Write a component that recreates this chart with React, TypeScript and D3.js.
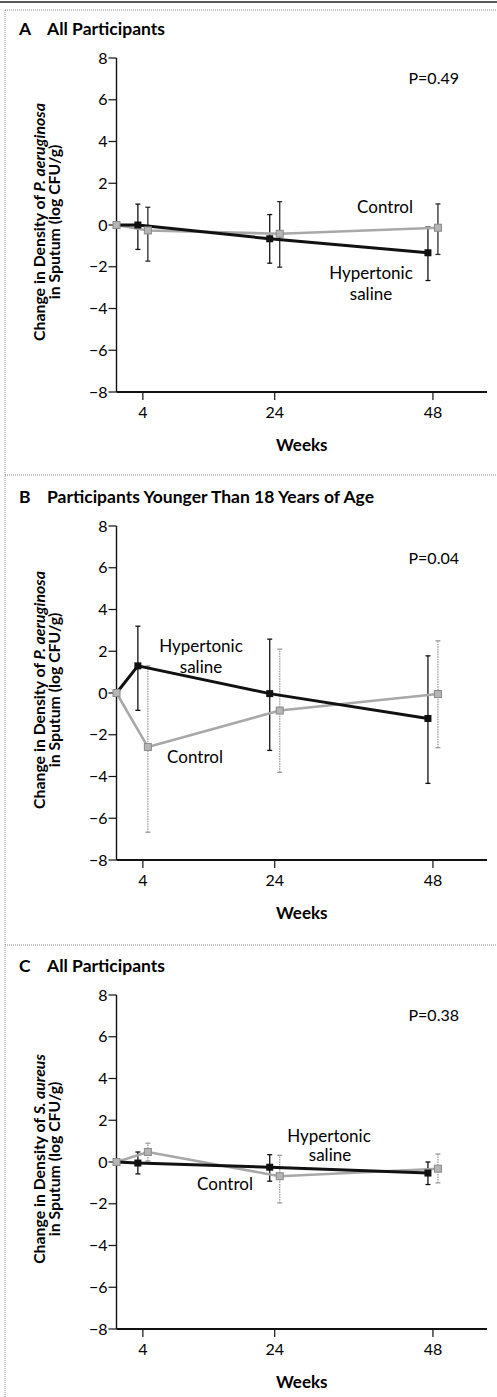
import * as d3 from "d3";

// weeks of follow-up; week 0 is the baseline
const weeks = [0, 4, 24, 48];
const xTicks = [4, 24, 48];
const yTicks = [-8, -6, -4, -2, 0, 2, 4, 6, 8];

// A: P. aeruginosa, all participants
const salineA = [0, 0, -0.66, -1.33];
const salineALo = [0, -1.17, -1.83, -2.66];
const salineAHi = [0, 1.0, 0.5, -0.1];
const controlA = [0, -0.26, -0.42, -0.13];
const controlALo = [0, -1.73, -2.02, -1.41];
const controlAHi = [0, 0.85, 1.12, 1.01];

// B: P. aeruginosa, participants younger than 18
const salineB = [0, 1.3, -0.03, -1.22];
const salineBLo = [0, -0.83, -2.75, -4.33];
const salineBHi = [0, 3.2, 2.58, 1.78];
const controlB = [0, -2.59, -0.84, -0.05];
const controlBLo = [0, -6.67, -3.8, -2.62];
const controlBHi = [0, 1.3, 2.1, 2.5];

// C: S. aureus, all participants
const salineC = [0, -0.05, -0.25, -0.53];
const salineCLo = [0, -0.57, -0.92, -1.08];
const salineCHi = [0, 0.48, 0.35, 0.0];
const controlC = [0, 0.48, -0.68, -0.32];
const controlCLo = [0, 0.05, -1.96, -1.0];
const controlCHi = [0, 0.9, 0.32, 0.38];

const FONT = "Lato, 'Open Sans', sans-serif";
const W = 497;
const H = 1397;
const PLOT_H = 334;
const x = d3.scaleLinear().domain([0, 56.2]).range([116.5, 487]);

const panels = [
  {
    letter: "A", title: "All Participants", top: 58, p: "P=0.49", pDy: 26, organism: "P. aeruginosa",
    saline: salineA, salineLo: salineALo, salineHi: salineAHi,
    control: controlA, controlLo: controlALo, controlHi: controlAHi, darkControlBars: true,
    labels: [
      { text: "Control", x: 385, dy: 155 },
      { text: "Hypertonic", x: 371, dy: 221 },
      { text: "saline", x: 371, dy: 242 },
    ],
  },
  {
    letter: "B", title: "Participants Younger Than 18 Years of Age", top: 526, p: "P=0.04", pDy: 38, organism: "P. aeruginosa",
    saline: salineB, salineLo: salineBLo, salineHi: salineBHi,
    control: controlB, controlLo: controlBLo, controlHi: controlBHi, darkControlBars: false,
    labels: [
      { text: "Hypertonic", x: 201, dy: 126 },
      { text: "saline", x: 201, dy: 147 },
      { text: "Control", x: 195, dy: 237 },
    ],
  },
  {
    letter: "C", title: "All Participants", top: 995, p: "P=0.38", pDy: 26, organism: "S. aureus",
    saline: salineC, salineLo: salineCLo, salineHi: salineCHi,
    control: controlC, controlLo: controlCLo, controlHi: controlCHi, darkControlBars: false,
    labels: [
      { text: "Hypertonic", x: 329, dy: 147 },
      { text: "saline", x: 330, dy: 166 },
      { text: "Control", x: 225, dy: 195 },
    ],
  },
];

function Panel({ cfg }: { cfg: any }) {
  const y = d3.scaleLinear().domain([-8, 8]).range([cfg.top + PLOT_H, cfg.top]);
  const bottom = cfg.top + PLOT_H;
  // small horizontal jitter so the two groups do not overlap
  const px = (w: number, shift: number) => x(w) + (w === 0 ? 0 : shift);

  const line = (vals: number[], shift: number) =>
    d3.line<number>()
      .x((_, i) => px(weeks[i], shift))
      .y((v) => y(v))(vals);

  const bars = (lo: number[], hi: number[], shift: number, color: string, dash?: string) =>
    weeks.map((w, i) =>
      w === 0 ? null : (
        <g key={i} stroke={color} strokeWidth={1.3}>
          <line x1={px(w, shift)} x2={px(w, shift)} y1={y(lo[i])} y2={y(hi[i])} strokeDasharray={dash} />
          <line x1={px(w, shift) - 2.5} x2={px(w, shift) + 2.5} y1={y(lo[i])} y2={y(lo[i])} />
          <line x1={px(w, shift) - 2.5} x2={px(w, shift) + 2.5} y1={y(hi[i])} y2={y(hi[i])} />
        </g>
      )
    );

  const ctrlBarColor = cfg.darkControlBars ? "#2a2a2a" : "#9a9a9a";
  const ctrlDash = cfg.darkControlBars ? undefined : "1.5 1";
  const yLabelCenter = cfg.top + PLOT_H / 2 - 3;

  return (
    <g>
      <text x={19} y={cfg.top - 23} fontFamily={FONT} fontWeight={700} fontSize={17.5}>
        {cfg.letter}
      </text>
      <text x={47} y={cfg.top - 23} fontFamily={FONT} fontWeight={700} fontSize={17.5}>
        {cfg.title}
      </text>

      {/* y axis label */}
      <g transform={`translate(45,${yLabelCenter}) rotate(-90)`} fontFamily={FONT} fontWeight={700} fontSize={15.8} textAnchor="middle">
        <text x={0} y={0}>
          Change in Density of <tspan fontStyle="italic">{cfg.organism}</tspan>
        </text>
        <text x={0} y={15}>in Sputum (log CFU/g)</text>
      </g>

      {/* axes */}
      <line x1={x(0)} x2={x(0)} y1={cfg.top} y2={bottom} stroke="#111" strokeWidth={1.4} />
      <line x1={x(0)} x2={x.range()[1]} y1={bottom} y2={bottom} stroke="#111" strokeWidth={2} />
      {yTicks.map((t) => (
        <g key={t}>
          <line x1={x(0) - 8} x2={x(0)} y1={y(t)} y2={y(t)} stroke="#111" strokeWidth={1.2} />
          <text x={x(0) - 9} y={y(t) + 5.5} textAnchor="end" fontFamily={FONT} fontSize={16}>
            {d3.format("d")(t)}
          </text>
        </g>
      ))}
      {xTicks.map((t) => (
        <g key={t}>
          <line x1={x(t)} x2={x(t)} y1={bottom} y2={bottom + 8} stroke="#111" strokeWidth={1.2} />
          <text x={x(t)} y={bottom + 26} textAnchor="middle" fontFamily={FONT} fontSize={16}>
            {t}
          </text>
        </g>
      ))}
      <text x={(x.range()[0] + x.range()[1]) / 2} y={bottom + 59} textAnchor="middle" fontFamily={FONT} fontWeight={700} fontSize={17}>
        Weeks
      </text>
      <text x={459} y={cfg.top + cfg.pDy} textAnchor="end" fontFamily={FONT} fontSize={16}>
        {cfg.p}
      </text>

      {/* error bars */}
      {bars(cfg.controlLo, cfg.controlHi, 5, ctrlBarColor, ctrlDash)}
      {bars(cfg.salineLo, cfg.salineHi, -5, "#111")}

      {/* lines */}
      <path d={line(cfg.control, 5) ?? ""} fill="none" stroke="#a8a8a8" strokeWidth={2.6} />
      <path d={line(cfg.saline, -5) ?? ""} fill="none" stroke="#111" strokeWidth={3} />

      {/* markers */}
      {cfg.control.map((v: number, i: number) => (
        <rect key={i} x={px(weeks[i], 5) - 3.5} y={y(v) - 3.5} width={7} height={7}
          fill="#b5b5b5" stroke="#8a8a8a" strokeWidth={1} />
      ))}
      {cfg.saline.map((v: number, i: number) =>
        weeks[i] === 0 ? null : (
          <rect key={i} x={px(weeks[i], -5) - 3.5} y={y(v) - 3.5} width={7} height={7} fill="#111" />
        )
      )}

      {cfg.labels.map((l: any, i: number) => (
        <text key={i} x={l.x} y={cfg.top + l.dy} textAnchor="middle" fontFamily={FONT} fontSize={17}>
          {l.text}
        </text>
      ))}
    </g>
  );
}

export default function App() {
  return (
    <svg width={W} height={H} style={{ position: "absolute", left: 0, top: 0, background: "#fff" }}>
      <rect width={W} height={H} fill="#fff" />
      {/* frame */}
      <line x1={0} x2={W} y1={2} y2={2} stroke="#222" strokeWidth={1.5} />
      <line x1={5} x2={W} y1={10} y2={10} stroke="#8c8c8c" strokeWidth={1} strokeDasharray="1 1" />
      <line x1={5} x2={5} y1={10} y2={H} stroke="#8c8c8c" strokeWidth={1} strokeDasharray="1 1" />
      <line x1={5} x2={W} y1={475} y2={475} stroke="#8c8c8c" strokeWidth={1} strokeDasharray="1 1" />
      <line x1={5} x2={W} y1={945} y2={945} stroke="#8c8c8c" strokeWidth={1} strokeDasharray="1 1" />
      {panels.map((p) => (
        <Panel key={p.letter} cfg={p} />
      ))}
    </svg>
  );
}
